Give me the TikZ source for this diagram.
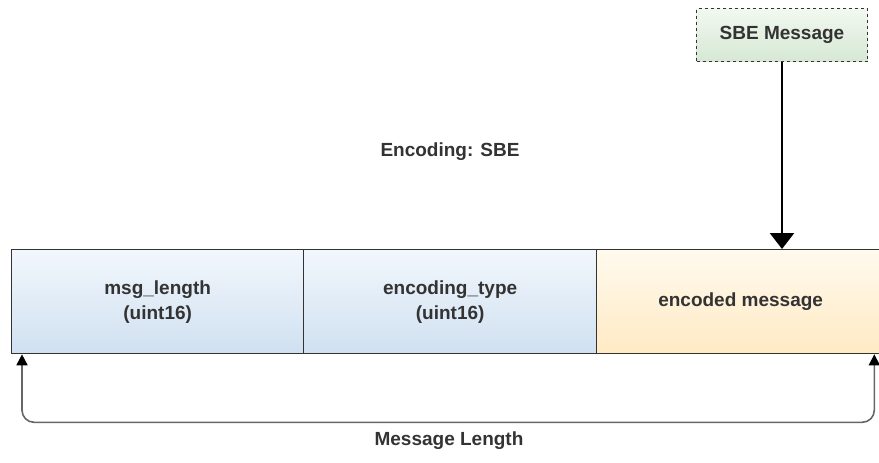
\documentclass[tikz,border=0pt]{standalone}
\usepackage{fontspec}
\setmainfont{Liberation Sans}
\usetikzlibrary{arrows.meta}
\definecolor{txtgray}{RGB}{51,51,51}
\definecolor{linegray}{RGB}{102,102,102}
\tikzset{
  field/.style={draw=txtgray, line width=1.3pt, anchor=north west, inner sep=0pt,
    minimum height=104pt, align=center, text=txtgray,
    font=\bfseries\fontsize{19}{25}\selectfont},
  bluefield/.style={field, top color={rgb,255:red,242;green,247;blue,252}, bottom color={rgb,255:red,208;green,224;blue,241}},
  yellowfield/.style={field, top color={rgb,255:red,255;green,250;blue,238}, bottom color={rgb,255:red,255;green,234;blue,196}},
  label/.style={text=txtgray, font=\bfseries\fontsize{19}{25}\selectfont, inner sep=0.75pt}
}
\begin{document}
\begin{tikzpicture}[x=1pt,y=1pt,yscale=-1,xscale=1]
\useasboundingbox (0,0) rectangle (879,463);

% Fields
\node [bluefield, minimum width=292pt] (msglen) at (11,249) {msg\_length\\(uint16)};
\node [bluefield, minimum width=293pt] (enctype) at (303,249) {encoding\_type\\(uint16)};
\node [yellowfield, minimum width=288pt] (encmsg) at (596,249) {encoded message};

% SBE message box
\node [draw=txtgray, dashed, line width=1pt, anchor=north west, minimum width=171pt, minimum height=53pt,
  inner sep=0pt, top color={rgb,255:red,242;green,248;blue,240}, bottom color={rgb,255:red,214;green,232;blue,212},
  text=txtgray, font=\bfseries\fontsize{19}{25}\selectfont] (sbe) at (696,8) {SBE Message};
\draw [line width=2.6pt, -{Triangle[length=16pt,width=24pt]}] (sbe.south) -- (sbe.south |- encmsg.north);

% Text Node
\node [label] (enclbl) at (450,152) {Encoding: SBE};

% Length bracket
\draw [draw=linegray, line width=1.6pt, rounded corners=12pt, {Triangle[length=11pt,width=11pt,black]}-{Triangle[length=11pt,width=11pt,black]}]
  ([xshift=11pt]msglen.south west) -- ++(0,68) -| ([xshift=-11pt]encmsg.south east);
% Text Node
\node [label] (lenlbl) at (449,441) {Message Length};

\end{tikzpicture}
\end{document}
